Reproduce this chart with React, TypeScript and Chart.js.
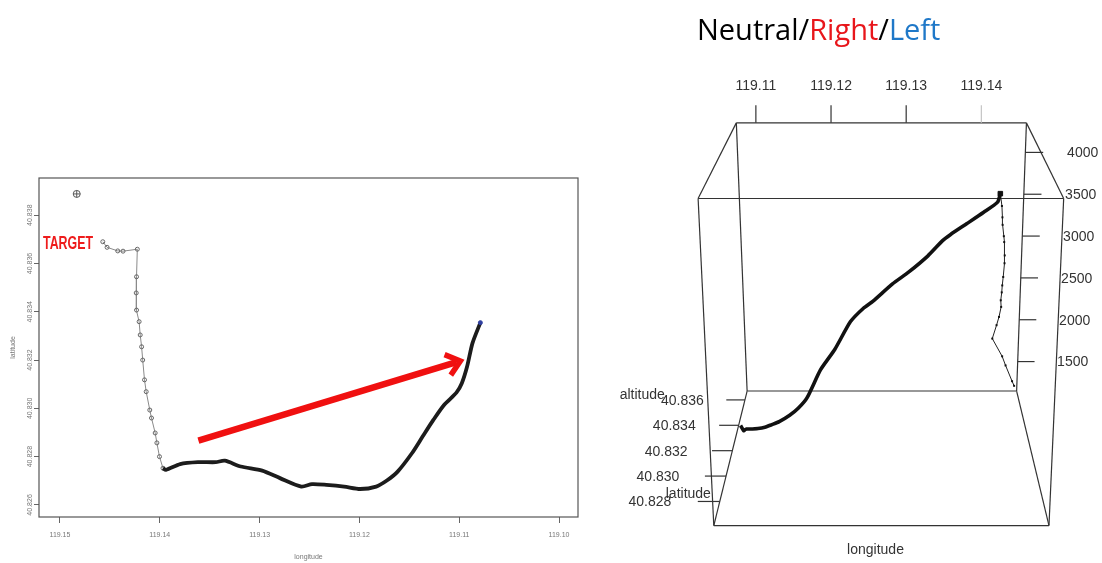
import React, { useEffect, useRef } from "react";
import { Chart, registerables } from "chart.js";

Chart.register(...registerables);

// ---------------- data ----------------
// approach leg (thin grey path, from the target to the turn point)
const approachLon = [119.14571, 119.14528, 119.14421, 119.14368, 119.14225, 119.14233, 119.14236, 119.14233, 119.14207, 119.14196, 119.14182, 119.14171, 119.14153, 119.14136, 119.141, 119.14083, 119.14046, 119.14029, 119.14003, 119.13968];
const approachLat = [40.8369, 40.83667, 40.83652, 40.83651, 40.83659, 40.83545, 40.83478, 40.83407, 40.83359, 40.83304, 40.83255, 40.832, 40.83118, 40.83069, 40.82993, 40.8296, 40.82898, 40.82857, 40.828, 40.82752];
const approachAlt = [1180, 1270, 1480, 1590, 1790, 2100, 2280, 2480, 2610, 2760, 2890, 3040, 3270, 3400, 3610, 3700, 3870, 3980, 4140, 4300];

// main leg (thick black path, from the turn point to the end)
const trackLon = [119.13968, 119.13939, 119.13796, 119.13617, 119.13439, 119.13349, 119.13189, 119.12974, 119.12796, 119.12582, 119.12475, 119.12331, 119.12153, 119.11993, 119.11832, 119.11725, 119.11617, 119.11474, 119.11367, 119.11259, 119.11152, 119.11028, 119.10974, 119.10921, 119.10867, 119.10788];
const trackLat = [40.82752, 40.82745, 40.82769, 40.82777, 40.82777, 40.82783, 40.82759, 40.82742, 40.82711, 40.82676, 40.82686, 40.82683, 40.82676, 40.82666, 40.82676, 40.82701, 40.82738, 40.82814, 40.82883, 40.82952, 40.83014, 40.83065, 40.83104, 40.83173, 40.8327, 40.83355];
const trackAlt = [4300, 4220, 4100, 3980, 3870, 3800, 3670, 3520, 3430, 3290, 3210, 3080, 2810, 2620, 2330, 2200, 2090, 1940, 1830, 1720, 1630, 1560, 1510, 1410, 1270, 1210];

// start symbol (circle with cross)
const startLon = [119.14832];
const startLat = [40.83888];

// red annotation arrow (tail, tip)
const arrowLon = [119.13613, 119.10989];
const arrowLat = [40.82866, 40.83196];

// tick labels
const lonTicks2D = [119.15, 119.14, 119.13, 119.12, 119.11, 119.1];
const latTicks2D = [40.826, 40.828, 40.83, 40.832, 40.834, 40.836, 40.838];
const lonTicks3D = [119.11, 119.12, 119.13, 119.14];
const latTicks3D = [40.828, 40.83, 40.832, 40.834, 40.836];
const altTicks3D = [1500, 2000, 2500, 3000, 3500, 4000];

// ---------------- axis ranges / layout ----------------
const X2D = { min: 119.0981, max: 119.1521 };
const Y2D = { min: 40.8255, max: 40.83954 };
const R3D = { lonMin: 119.1074, lonMax: 119.146, latMin: 40.8261, latMax: 40.8367, altMin: 1148, altMax: 4353 };

// projected corners of the 3-D box (page pixels)
const BOX = {
  back: { bl: [745, 393], br: [1020, 393], tl: [734, 120], tr: [1030, 120] },
  front: { bl: [711, 530], br: [1053, 530], tl: [695, 197], tr: [1068, 197] },
};
const RIGHT_LEFT = 600;
const W = 1102;
const H = 563;
const SANS = '"Liberation Sans", Arial, Helvetica, sans-serif';

const lerp = (a: number[], b: number[], t: number) => [a[0] + (b[0] - a[0]) * t, a[1] + (b[1] - a[1]) * t];
function projUVZ(u: number, v: number, z: number) {
  const face = (f: any) => lerp(lerp(f.bl, f.br, u), lerp(f.tl, f.tr, u), v);
  const p = lerp(face(BOX.back), face(BOX.front), z);
  return { x: p[0], y: p[1] };
}
const uOf = (lon: number) => (lon - R3D.lonMin) / (R3D.lonMax - R3D.lonMin);
const zOf = (lat: number) => (R3D.latMax - lat) / (R3D.latMax - R3D.latMin);
const vOf = (alt: number) => (alt - R3D.altMin) / (R3D.altMax - R3D.altMin);
const proj = (lon: number, lat: number, alt: number) => projUVZ(uOf(lon), vOf(alt), zOf(lat));

// ---------------- left panel ----------------
function LeftPanel() {
  const ref = useRef<HTMLCanvasElement>(null);
  useEffect(() => {
    const framePlugin = {
      id: "rframe",
      afterDatasetsDraw(chart: any) {
        const { ctx, scales } = chart;
        const xs = scales.x;
        const ys = scales.y;
        // red arrow
        const x1 = xs.getPixelForValue(arrowLon[0]);
        const y1 = ys.getPixelForValue(arrowLat[0]);
        const x2 = xs.getPixelForValue(arrowLon[1]);
        const y2 = ys.getPixelForValue(arrowLat[1]);
        const th = Math.atan2(y2 - y1, x2 - x1);
        ctx.save();
        ctx.strokeStyle = "#f01010";
        ctx.lineWidth = 6.5;
        ctx.lineCap = "butt";
        ctx.beginPath();
        ctx.moveTo(x1, y1);
        ctx.lineTo(x2 - 4 * Math.cos(th), y2 - 4 * Math.sin(th));
        ctx.stroke();
        const L = 17;
        const a = 0.68;
        ctx.lineWidth = 5.5;
        ctx.lineJoin = "miter";
        ctx.beginPath();
        ctx.moveTo(x2 - L * Math.cos(th - a), y2 - L * Math.sin(th - a));
        ctx.lineTo(x2, y2);
        ctx.lineTo(x2 - L * Math.cos(th + a), y2 - L * Math.sin(th + a));
        ctx.stroke();
        ctx.restore();
      },
      afterDraw(chart: any) {
        const { ctx, chartArea: ar, scales } = chart;
        ctx.save();
        ctx.strokeStyle = "#555";
        ctx.lineWidth = 1.2;
        ctx.strokeRect(ar.left, ar.top, ar.right - ar.left, ar.bottom - ar.top);
        // rotated latitude labels
        ctx.fillStyle = "#777";
        ctx.font = `7px ${SANS}`;
        ctx.textAlign = "center";
        ctx.textBaseline = "middle";
        latTicks2D.forEach((v) => {
          const y = scales.y.getPixelForValue(v);
          ctx.save();
          ctx.translate(30, y);
          ctx.rotate(-Math.PI / 2);
          ctx.fillText(v.toFixed(3), 0, 0);
          ctx.restore();
        });
        ctx.save();
        ctx.translate(13, (ar.top + ar.bottom) / 2);
        ctx.rotate(-Math.PI / 2);
        ctx.fillText("latitude", 0, 0);
        ctx.restore();
        // TARGET label
        ctx.font = `bold 19px ${SANS}`;
        ctx.fillStyle = "#ee1c1c";
        ctx.textAlign = "left";
        ctx.textBaseline = "alphabetic";
        const w = ctx.measureText("TARGET").width;
        ctx.save();
        ctx.translate(43, 249);
        ctx.scale(50 / w, 1);
        ctx.fillText("TARGET", 0, 0);
        ctx.restore();
        ctx.restore();
      },
    };

    const chart = new Chart(ref.current as HTMLCanvasElement, {
      type: "scatter",
      data: {
        datasets: [
          {
            label: "end",
            data: [{ x: trackLon[trackLon.length - 1], y: trackLat[trackLat.length - 1] }],
            pointRadius: 2,
            pointBackgroundColor: "#3040a0",
            pointBorderColor: "#3040a0",
          },
          {
            label: "track",
            data: trackLon.map((x, i) => ({ x, y: trackLat[i] })),
            showLine: true,
            borderColor: "#1c1c1c",
            borderWidth: 3.8,
            tension: 0.25,
            pointRadius: 0,
          },
          {
            label: "approach",
            data: approachLon.map((x, i) => ({ x, y: approachLat[i] })),
            showLine: true,
            borderColor: "#8a8a8a",
            borderWidth: 1,
            pointRadius: 2,
            pointBackgroundColor: "rgba(255,255,255,0)",
            pointBorderColor: "#666",
            pointBorderWidth: 1,
          },
          {
            label: "start",
            data: startLon.map((x, i) => ({ x, y: startLat[i] })),
            pointRadius: 3.5,
            pointBackgroundColor: "rgba(255,255,255,0)",
            pointBorderColor: "#555",
            pointBorderWidth: 1,
          },
          {
            label: "start cross",
            data: startLon.map((x, i) => ({ x, y: startLat[i] })),
            pointStyle: "cross",
            pointRadius: 3.5,
            pointBorderColor: "#555",
            pointBorderWidth: 1,
          },
        ],
      },
      options: {
        responsive: false,
        animation: false,
        events: [],
        layout: { padding: { top: 178, right: 22, left: 0, bottom: 0 } },
        plugins: { legend: { display: false }, tooltip: { enabled: false }, title: { display: false } },
        scales: {
          x: {
            type: "linear",
            reverse: true,
            min: X2D.min,
            max: X2D.max,
            afterBuildTicks: (s: any) => {
              s.ticks = lonTicks2D.map((value) => ({ value }));
            },
            afterFit: (s: any) => {
              s.height = 46;
            },
            grid: { drawOnChartArea: false, drawTicks: true, tickLength: 6, color: "#666", lineWidth: 1 },
            border: { display: false },
            ticks: {
              autoSkip: false,
              maxRotation: 0,
              minRotation: 0,
              padding: 8,
              color: "#777",
              font: { size: 7, family: SANS },
              callback: (v: any) => Number(v).toFixed(2),
            },
            title: { display: true, text: "longitude", color: "#777", font: { size: 7, family: SANS }, padding: { top: 0, bottom: 2 } },
          },
          y: {
            type: "linear",
            min: Y2D.min,
            max: Y2D.max,
            afterBuildTicks: (s: any) => {
              s.ticks = latTicks2D.map((value) => ({ value }));
            },
            afterFit: (s: any) => {
              s.width = 39;
            },
            grid: { drawOnChartArea: false, drawTicks: true, tickLength: 5, color: "#666", lineWidth: 1 },
            border: { display: false },
            ticks: { display: false },
          },
        },
      } as any,
      plugins: [framePlugin],
    });
    return () => chart.destroy();
  }, []);
  return <canvas ref={ref} width={RIGHT_LEFT} height={H} style={{ position: "absolute", left: 0, top: 0 }} />;
}

// ---------------- right panel (3-D view) ----------------
function RightPanel() {
  const ref = useRef<HTMLCanvasElement>(null);
  useEffect(() => {
    const boxPlugin = {
      id: "box3d",
      beforeDatasetsDraw(chart: any) {
        const { ctx, scales } = chart;
        const X = (p: { x: number; y: number }) => scales.x.getPixelForValue(p.x);
        const Y = (p: { x: number; y: number }) => scales.y.getPixelForValue(p.y);
        const line = (a: any, b: any) => {
          ctx.beginPath();
          ctx.moveTo(X(a), Y(a));
          ctx.lineTo(X(b), Y(b));
          ctx.stroke();
        };
        ctx.save();
        ctx.strokeStyle = "#333";
        ctx.lineWidth = 1.2;
        // 12 box edges
        const c = (u: number, v: number, z: number) => projUVZ(u, v, z);
        for (const z of [0, 1]) {
          line(c(0, 0, z), c(1, 0, z));
          line(c(0, 1, z), c(1, 1, z));
          line(c(0, 0, z), c(0, 1, z));
          line(c(1, 0, z), c(1, 1, z));
        }
        for (const u of [0, 1]) for (const v of [0, 1]) line(c(u, v, 0), c(u, v, 1));

        ctx.font = `14px ${SANS}`;
        ctx.fillStyle = "#333";
        // longitude ticks on the back-top edge
        ctx.textAlign = "center";
        ctx.textBaseline = "middle";
        lonTicks3D.forEach((lon, i) => {
          const p = projUVZ(uOf(lon), 1, 0);
          ctx.strokeStyle = i === lonTicks3D.length - 1 ? "#c4c4c4" : "#333";
          line(p, { x: p.x, y: p.y - 18 });
          ctx.fillText(lon.toFixed(2), X(p), Y({ x: p.x, y: p.y - 37 }));
        });
        ctx.strokeStyle = "#333";
        // latitude ticks on the bottom-left depth edge
        ctx.textAlign = "right";
        latTicks3D.forEach((lat) => {
          const z = zOf(lat);
          const p = projUVZ(0, 0, z);
          const q = projUVZ(-0.068, 0, z);
          line(p, q);
          const t = projUVZ(-0.15, 0, z);
          ctx.fillText(lat.toFixed(3), X(t), Y(t) + 1);
        });
        // altitude ticks on the back-right vertical edge
        ctx.textAlign = "left";
        altTicks3D.forEach((alt) => {
          const v = vOf(alt);
          const p = projUVZ(1, v, 0);
          const q = projUVZ(1.062, v, 0);
          line(p, q);
          const t = projUVZ(1.145, v, 0);
          ctx.fillText(String(alt), X(t), Y(t) + 1);
        });
        // axis names
        ctx.textAlign = "center";
        ctx.fillText("altitude", X({ x: 638, y: 0 }), Y({ x: 0, y: 397 }));
        ctx.fillText("latitude", X({ x: 685, y: 0 }), Y({ x: 0, y: 498 }));
        ctx.fillText("longitude", X({ x: 876, y: 0 }), Y({ x: 0, y: 555 }));
        ctx.restore();
      },
    };

    const track3D = trackLon.map((lon, i) => proj(lon, trackLat[i], trackAlt[i]));
    const approach3D = approachLon.map((lon, i) => proj(lon, approachLat[i], approachAlt[i]));

    const chart = new Chart(ref.current as HTMLCanvasElement, {
      type: "scatter",
      data: {
        datasets: [
          {
            label: "turn",
            data: [track3D[0]],
            pointStyle: "rect",
            pointRadius: 3.2,
            pointBackgroundColor: "#111",
            pointBorderColor: "#111",
          },
          {
            label: "track",
            data: track3D,
            showLine: true,
            borderColor: "#111",
            borderWidth: 3.6,
            tension: 0.2,
            pointRadius: 0,
          },
          {
            label: "approach",
            data: approach3D,
            showLine: true,
            borderColor: "#222",
            borderWidth: 1,
            pointStyle: "rect",
            pointRadius: 1.4,
            pointBackgroundColor: "#111",
            pointBorderColor: "#111",
            pointBorderWidth: 0,
          },
        ],
      },
      options: {
        responsive: false,
        animation: false,
        events: [],
        layout: { padding: 0 },
        plugins: { legend: { display: false }, tooltip: { enabled: false }, title: { display: false } },
        scales: {
          x: { type: "linear", display: false, min: RIGHT_LEFT, max: W },
          y: { type: "linear", display: false, min: 0, max: H, reverse: true },
        },
      } as any,
      plugins: [boxPlugin],
    });
    return () => chart.destroy();
  }, []);
  return (
    <canvas ref={ref} width={W - RIGHT_LEFT} height={H} style={{ position: "absolute", left: RIGHT_LEFT, top: 0 }} />
  );
}

export default function App() {
  return (
    <div style={{ position: "absolute", left: 0, top: 0, width: W, height: H, background: "#fff", overflow: "hidden" }}>
      <LeftPanel />
      <RightPanel />
      <div
        style={{
          position: "absolute",
          left: 697,
          top: 14,
          fontFamily: '"Open Sans", "Noto Sans", sans-serif',
          fontSize: 29,
          lineHeight: "29px",
          whiteSpace: "nowrap",
          color: "#000",
        }}
      >
        <span>Neutral/</span>
        <span style={{ color: "#e8161b" }}>Right</span>
        <span>/</span>
        <span style={{ color: "#1f78c8" }}>Left</span>
      </div>
    </div>
  );
}
